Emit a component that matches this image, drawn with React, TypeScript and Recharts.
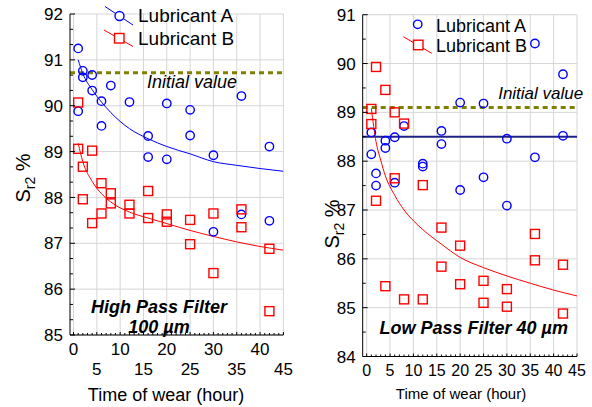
import {
  ComposedChart, Scatter, Line, XAxis, YAxis, CartesianGrid,
  ReferenceLine, Legend, Customized,
} from 'recharts'

const FONT = '"Liberation Sans", Arial, Helvetica, sans-serif'
const BLUE = '#0000ff'
const RED = '#ff0000'
const OLIVE = '#808000'
const NAVY = '#1f2385'
const GRID = '#d6d6d6'

// ---- High Pass Filter 100 µm (left panel) ----
const HP_A_T = [1, 1, 2, 2, 4, 4, 6, 6, 8, 12, 16, 16, 20, 20, 25, 25, 30, 30, 36, 36, 42, 42]
const HP_A_V = [91.25, 89.88, 90.76, 90.62, 90.67, 90.33, 90.10, 89.56, 90.44, 90.08, 89.34, 88.88,
  90.05, 88.83, 89.91, 89.35, 88.92, 87.25, 90.21, 87.63, 89.11, 87.49]
const HP_B_T = [1, 1, 2, 2, 4, 4, 6, 6, 8, 8, 12, 12, 16, 16, 20, 20, 25, 25, 30, 30, 36, 36, 42, 42]
const HP_B_V = [90.07, 89.06, 88.67, 87.96, 89.02, 87.44, 88.31, 87.65, 88.09, 87.87, 87.84, 87.65,
  88.14, 87.55, 87.63, 87.47, 87.51, 86.98, 87.65, 86.35, 87.74, 87.35, 86.88, 85.52]
const HP_FIT_T = [1, 2, 4, 6, 8, 12, 16, 20, 25, 30, 35, 40, 45]
const HP_FIT_A = [91.0, 90.7, 90.35, 90.08, 89.85, 89.5, 89.28, 89.11, 88.95, 88.78, 88.7, 88.63, 88.57]
const HP_FIT_B = [89.18, 88.78, 88.35, 88.08, 87.9, 87.68, 87.55, 87.43, 87.28, 87.15, 87.03, 86.93, 86.85]
const HP_INITIAL = 90.72

// ---- Low Pass Filter 40 µm (right panel) ----
const LP_A_T = [1, 1, 2, 2, 4, 4, 6, 6, 8, 12, 12, 16, 16, 20, 20, 25, 25, 30, 30, 36, 36, 42, 42]
const LP_A_V = [88.59, 88.14, 87.75, 87.50, 88.42, 88.27, 88.49, 87.56, 88.72, 87.95, 87.89, 88.62,
  88.35, 89.20, 87.41, 89.18, 87.67, 88.46, 87.09, 90.41, 88.08, 89.78, 88.52]
const LP_B_T = [1, 1, 2, 2, 4, 4, 6, 6, 8, 8, 12, 12, 16, 16, 20, 20, 25, 25, 30, 30, 36, 36, 42, 42]
const LP_B_V = [89.07, 88.76, 89.93, 87.19, 89.46, 85.44, 89.00, 87.65, 88.77, 85.17, 87.51, 85.17,
  86.64, 85.84, 86.27, 85.48, 85.55, 85.10, 85.38, 85.02, 86.51, 85.97, 85.88, 84.88]
const LP_FIT_T = [1, 2, 3, 4, 6, 8, 10, 12, 16, 20, 25, 30, 35, 40, 45]
const LP_FIT_B = [89.08, 88.4, 88.02, 87.7, 87.3, 87.0, 86.78, 86.6, 86.3, 86.03, 85.82, 85.65, 85.5, 85.36, 85.24]
const LP_LEVEL_A = 88.5
const LP_INITIAL = 89.1

// ---- axes ----
const X_TICKS = [0, 5, 10, 15, 20, 25, 30, 35, 40, 45]
const HP_Y_TICKS = [85, 86, 87, 88, 89, 90, 91, 92]
const LP_Y_TICKS = [84, 85, 86, 87, 88, 89, 90, 91]

const pts = (t: number[], v: number[]) => t.map((x, i) => ({ t: x, v: v[i] }))

function minorTicks(major: number[], parts: number) {
  const out: number[] = []
  for (let i = 0; i < major.length - 1; i++) {
    for (let k = 0; k < parts; k++) out.push(major[i] + ((major[i + 1] - major[i]) * k) / parts)
  }
  out.push(major[major.length - 1])
  return out
}

const X_MINOR = minorTicks(X_TICKS, 5)

const Circle = (p: any) => (
  <circle cx={p.cx} cy={p.cy} r={4.2} fill="none" stroke={BLUE} strokeWidth={1.4} />
)
const Square = (p: any) => (
  <rect x={p.cx - 4.5} y={p.cy - 4.5} width={9} height={9} fill="none" stroke={RED} strokeWidth={1.4} />
)

const isMajor = (v: number) => Math.abs(v - Math.round(v)) < 1e-6

function YTick(props: any) {
  const { x, y, payload } = props
  const v = payload.value
  const ax = x + 7
  const major = isMajor(v)
  return (
    <g>
      <line x1={ax} x2={ax + (major ? 5 : 3)} y1={y} y2={y} stroke="#000" strokeWidth={1} />
      {major && (
        <text x={x} y={y} dy="0.36em" textAnchor="end" fontSize={17} fontFamily={FONT} fill="#000">{v}</text>
      )}
    </g>
  )
}

function XTickTwoRows(props: any) {
  const { x, y, payload } = props
  const v = payload.value
  const ay = y - 4
  const labeled = v % 5 === 0
  const row = v % 10 === 0 ? 0 : 1
  return (
    <g>
      <line x1={x} x2={x} y1={ay} y2={ay - (labeled ? 3 : 2)} stroke="#000" strokeWidth={1} />
      {labeled && (
        <text x={x} y={ay + 14 + row * 20} dy="0.36em" textAnchor="middle" fontSize={17} fontFamily={FONT} fill="#000">{v}</text>
      )}
    </g>
  )
}

function XTickOneRow(props: any) {
  const { x, y, payload } = props
  const v = payload.value
  const ay = y - 4
  const labeled = v % 5 === 0
  return (
    <g>
      <line x1={x} x2={x} y1={ay} y2={ay - (labeled ? 3 : 2)} stroke="#000" strokeWidth={1} />
      {labeled && (
        <text x={x} y={ay + 14} dy="0.36em" textAnchor="middle" fontSize={16} fontFamily={FONT} fill="#000">{v}</text>
      )}
    </g>
  )
}

function YLabel({ x, y }: { x: number; y: number }) {
  return (
    <text transform={`rotate(-90, ${x}, ${y})`} x={x} y={y} textAnchor="middle" fontSize={20} fontFamily={FONT} fill="#000">
      S<tspan dy={5} fontSize={14}>r2</tspan><tspan dy={-5}> %</tspan>
    </text>
  )
}

function LegendLeft() {
  return (
    <svg width={160} height={52} style={{ display: 'block', overflow: 'visible' }}>
      <line x1={5} y1={6.5} x2={33} y2={25} stroke={BLUE} strokeWidth={1} />
      <circle cx={19.5} cy={16} r={4.5} fill="white" stroke={BLUE} strokeWidth={1.4} />
      <text x={38} y={22} fontSize={19} fontFamily={FONT} fill="#000">Lubricant A</text>
      <line x1={4} y1={30} x2={33} y2={46.5} stroke={RED} strokeWidth={1} />
      <rect x={14.5} y={33.5} width={9.5} height={9.5} fill="white" stroke={RED} strokeWidth={1.4} />
      <text x={38} y={45} fontSize={19} fontFamily={FONT} fill="#000">Lubricant B</text>
    </svg>
  )
}

function LegendRight() {
  return (
    <svg width={150} height={52} style={{ display: 'block', overflow: 'visible' }}>
      <circle cx={17.7} cy={24.3} r={4.2} fill="white" stroke={BLUE} strokeWidth={1.4} />
      <text x={36} y={31.5} fontSize={18} fontFamily={FONT} fill="#000">Lubricant A</text>
      <line x1={3.3} y1={36.7} x2={31.7} y2={53.3} stroke={RED} strokeWidth={1} />
      <rect x={13.5} y={40.2} width={9.5} height={9.5} fill="white" stroke={RED} strokeWidth={1.4} />
      <text x={36} y={51.5} fontSize={18} fontFamily={FONT} fill="#000">Lubricant B</text>
    </svg>
  )
}

function HighPassChart() {
  return (
    <ComposedChart width={300} height={407} margin={{ top: 14, right: 16.6, bottom: 0, left: 0 }}>
      <CartesianGrid stroke={GRID} strokeWidth={1} verticalValues={X_TICKS} horizontalValues={HP_Y_TICKS} />
      <XAxis type="number" dataKey="t" domain={[-0.75, 45]} allowDataOverflow ticks={X_MINOR} interval={0}
        height={72} tickSize={0} tickMargin={4} tick={<XTickTwoRows />} stroke="#000" />
      <YAxis type="number" dataKey="v" domain={[85, 92]} allowDataOverflow ticks={minorTicks(HP_Y_TICKS, 3)} interval={0}
        width={70} tickSize={0} tickMargin={7} tick={<YTick />} stroke="#000" />
      <ReferenceLine y={HP_INITIAL} stroke={OLIVE} strokeWidth={3} strokeDasharray="5 4"
        label={(p: any) => (
          <text x={p.viewBox.x + 122} y={p.viewBox.y + 15.5} textAnchor="middle" fontStyle="italic" fontSize={18} fontFamily={FONT} fill="#000">Initial value</text>
        )} />
      <Line data={pts(HP_FIT_T, HP_FIT_A)} dataKey="v" type="monotone" stroke={BLUE} strokeWidth={1} dot={false} isAnimationActive={false} />
      <Line data={pts(HP_FIT_T, HP_FIT_B)} dataKey="v" type="monotone" stroke={RED} strokeWidth={1} dot={false} isAnimationActive={false} />
      <Scatter data={pts(HP_A_T, HP_A_V)} dataKey="v" shape={Circle} isAnimationActive={false} />
      <Scatter data={pts(HP_B_T, HP_B_V)} dataKey="v" shape={Square} isAnimationActive={false} />
      <Legend layout="horizontal" verticalAlign="middle" align="center" content={() => <LegendLeft />}
        wrapperStyle={{ left: 100, top: 0, width: 160, height: 52 }} />
      <Customized component={() => (
        <g>
          <YLabel x={30} y={178} />
          <text x={159} y={312.5} textAnchor="middle" fontWeight="bold" fontStyle="italic" fontSize={18} fontFamily={FONT} fill="#000">High Pass Filter</text>
          <text x={159} y={333} textAnchor="middle" fontWeight="bold" fontStyle="italic" fontSize={18} fontFamily={FONT} fill="#000">100 µm</text>
          <text x={166} y={401} textAnchor="middle" fontSize={18} fontFamily={FONT} fill="#000">Time of wear (hour)</text>
        </g>
      )} />
    </ComposedChart>
  )
}

function LowPassChart() {
  return (
    <ComposedChart width={292} height={407} margin={{ top: 14.7, right: 15, bottom: 0, left: 0 }}>
      <CartesianGrid stroke={GRID} strokeWidth={1} verticalValues={X_TICKS} horizontalValues={LP_Y_TICKS} />
      <XAxis type="number" dataKey="t" domain={[-0.85, 45]} allowDataOverflow ticks={X_MINOR} interval={0}
        height={50.5} tickSize={0} tickMargin={4} tick={<XTickOneRow />} stroke="#000" />
      <YAxis type="number" dataKey="v" domain={[84, 91]} allowDataOverflow ticks={minorTicks(LP_Y_TICKS, 2)} interval={0}
        width={62.7} tickSize={0} tickMargin={7} tick={<YTick />} stroke="#000" />
      <ReferenceLine y={LP_INITIAL} stroke={OLIVE} strokeWidth={3} strokeDasharray="5 4"
        label={(p: any) => (
          <text x={p.viewBox.x + 178} y={p.viewBox.y - 8} textAnchor="middle" fontStyle="italic" fontSize={17} fontFamily={FONT} fill="#000">Initial value</text>
        )} />
      <ReferenceLine y={LP_LEVEL_A} stroke={NAVY} strokeWidth={1.8} />
      <Line data={pts(LP_FIT_T, LP_FIT_B)} dataKey="v" type="monotone" stroke={RED} strokeWidth={1} dot={false} isAnimationActive={false} />
      <Scatter data={pts(LP_A_T, LP_A_V)} dataKey="v" shape={Circle} isAnimationActive={false} />
      <Scatter data={pts(LP_B_T, LP_B_V)} dataKey="v" shape={Square} isAnimationActive={false} />
      <Legend layout="horizontal" verticalAlign="middle" align="center" content={() => <LegendRight />}
        wrapperStyle={{ left: 100, top: 0, width: 150, height: 56 }} />
      <Customized component={() => (
        <g>
          <YLabel x={39} y={224} />
          <text x={173.7} y={334} textAnchor="middle" fontWeight="bold" fontStyle="italic" fontSize={18} fontFamily={FONT} fill="#000">Low Pass Filter 40 µm</text>
          <text x={161} y={399} textAnchor="middle" fontSize={15} fontFamily={FONT} fill="#000">Time of wear (hour)</text>
        </g>
      )} />
    </ComposedChart>
  )
}

export default function App() {
  return (
    <div style={{ position: 'absolute', left: 0, top: 0, width: 592, height: 407, background: '#fff' }}>
      <div style={{ position: 'absolute', left: 0, top: 0 }}>
        <HighPassChart />
      </div>
      <div style={{ position: 'absolute', left: 300, top: 0 }}>
        <LowPassChart />
      </div>
    </div>
  )
}
